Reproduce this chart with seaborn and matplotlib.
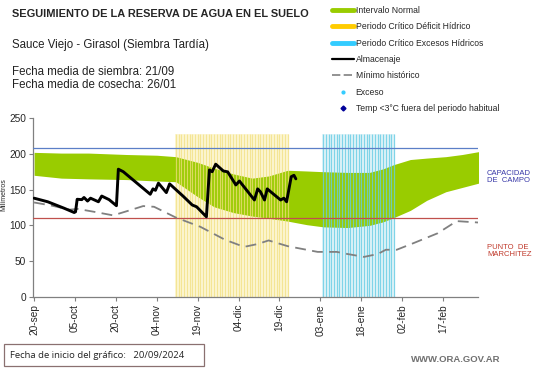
import matplotlib
matplotlib.use("Agg")
import matplotlib.pyplot as plt
from matplotlib.lines import Line2D
from matplotlib.patches import Rectangle
import pandas as pd
import seaborn as sns

sns.set_theme(style="white")
plt.rcParams["font.family"] = ["Liberation Sans", "DejaVu Sans"]

# days counted from 20-sep-2024
tick_days = [0, 15, 30, 45, 60, 75, 90, 105, 120, 135, 150]
tick_labels = ["20-sep", "05-oct", "20-oct", "04-nov", "19-nov", "04-dic",
               "19-dic", "03-ene", "18-ene", "02-feb", "17-feb"]

# Intervalo normal (upper / lower bounds)
band_days = [0, 10, 20, 34, 45, 52, 60, 66, 73, 80, 86, 93, 100, 106, 115,
             123, 128, 132, 138, 144, 151, 157, 163]
band_upper = [202, 201, 201, 199, 198, 196, 188, 180, 172, 166, 169, 177, 176,
              175, 174, 174, 179, 185, 192, 194, 196, 199, 203]
band_lower = [170, 166, 165, 164, 162, 161, 140, 126, 118, 113, 110, 106, 101,
              98, 97, 100, 105, 111, 121, 135, 147, 153, 159]

# Minimo historico
min_days = [0, 6, 13, 16, 22, 29, 35, 40, 44, 52, 61, 70, 77, 82, 86, 93, 104,
            111, 115, 121, 126, 129, 133, 139, 148, 155, 163]
min_vals = [132, 128, 122, 123, 119, 114, 121, 127, 126, 111, 98, 80, 70, 74,
            79, 71, 63, 63, 60, 56, 60, 66, 66, 75, 89, 106, 104]

# Almacenaje
alm_days = [0, 5, 11, 14.7, 15.2, 15.8, 17.5, 18.3, 19.6, 20.7, 23.6, 24.8,
            27.5, 30.2, 30.9, 32.7, 42.6, 43.6, 44.5, 45.6, 48.5, 49.7, 54.6,
            58, 59.6, 63.2, 64.3, 65.3, 66.6, 69.4, 71, 74, 75.3, 80.8, 82,
            83, 84.5, 85.5, 90.4, 91.6, 92.6, 94.3, 95.3, 96]
alm_vals = [138, 133, 124, 118, 119, 136.5, 136, 139, 134, 138, 133, 141, 136,
            127.5, 178.5, 175, 143.5, 151, 149, 159, 145.8, 158, 141, 128.5,
            126, 112, 177.5, 175, 185.5, 176, 174.8, 156.5, 162, 135.5, 151,
            147, 135.5, 151, 135.5, 138, 133, 168, 170, 165]

deficit_days = list(range(52, 94))
exceso_days = list(range(106, 133))
band_top = 228
cap_campo = 208
marchitez = 111

fig = plt.figure(figsize=(5.41, 3.68), dpi=100)
ax = fig.add_axes([33 / 541, 71 / 368, 445 / 541, 179 / 368])

# critical period backgrounds behind the normal band
ax.bar(deficit_days, band_top, width=1.0, color="#fdf7d6", lw=0, zorder=0.5)
ax.bar(exceso_days, band_top, width=1.0, color="#e4f5f9", lw=0, zorder=0.5)
ax.fill_between(band_days, band_lower, band_upper, color="#99cc00", lw=0, zorder=1)

# daily stripes on top
ax.vlines(deficit_days, 0, band_top, color="#f2df80", lw=0.9, alpha=0.75, zorder=2)
ax.vlines(exceso_days, 0, band_top, color="#66cce4", lw=0.9, alpha=0.8, zorder=2)

ax.axhline(cap_campo, color="#5b7fc7", lw=0.9, zorder=3)
ax.axhline(marchitez, color="#c0504d", lw=0.9, zorder=3)

df_min = pd.DataFrame({"dia": min_days, "mm": min_vals})
df_alm = pd.DataFrame({"dia": alm_days, "mm": alm_vals})
sns.lineplot(data=df_min, x="dia", y="mm", ax=ax, color="#808080", lw=1.3,
             zorder=4, sort=False)
ax.lines[-1].set_dashes([6, 3.5])
sns.lineplot(data=df_alm, x="dia", y="mm", ax=ax, color="black", lw=2.1,
             zorder=5, sort=False)

ax.set_xlim(-0.4, 162.8)
ax.set_ylim(0, 250)
ax.set_yticks([0, 50, 100, 150, 200, 250])
ax.set_xticks(tick_days)
ax.set_xticklabels(tick_labels, rotation=90)
ax.tick_params(axis="both", labelsize=7.3, length=3, width=0.8, color="#808080",
               pad=2, direction="out", left=True, bottom=True)
ax.set_xlabel("")
ax.set_ylabel("Milímetros", fontsize=5, labelpad=-1)
ax.yaxis.set_label_coords(-0.058, 0.57)
for side in ["top", "right"]:
    ax.spines[side].set_visible(False)
for side in ["left", "bottom"]:
    ax.spines[side].set_color("#808080")
    ax.spines[side].set_linewidth(0.9)

fig.text(487 / 541, 1 - 177 / 368, "CAPACIDAD\nDE  CAMPO", fontsize=5.5,
         color="#3838a8", va="center", ha="left", linespacing=1.1)
fig.text(487 / 541, 1 - 251 / 368, "PUNTO  DE\nMARCHITEZ", fontsize=5.5,
         color="#c0392b", va="center", ha="left", linespacing=1.1)

fig.text(12 / 541, 1 - 14 / 368, "SEGUIMIENTO DE LA RESERVA DE AGUA EN EL SUELO",
         fontsize=7.9, fontweight="bold", va="center")
fig.text(12 / 541, 1 - 45 / 368, "Sauce Viejo - Girasol (Siembra Tardía)",
         fontsize=8.3, va="center", color="#222222")
fig.text(12 / 541, 1 - 72 / 368, "Fecha media de siembra: 21/09",
         fontsize=8.3, va="center", color="#222222")
fig.text(12 / 541, 1 - 85 / 368, "Fecha media de cosecha: 26/01",
         fontsize=8.3, va="center", color="#222222")

handles = [
    Line2D([], [], color="#99cc00", lw=3.5),
    Line2D([], [], color="#ffcc00", lw=3.5),
    Line2D([], [], color="#33ccff", lw=3.5),
    Line2D([], [], color="black", lw=1.6),
    Line2D([], [], color="#808080", lw=1.2, dashes=[5, 2]),
    Line2D([], [], color="#33ccff", lw=0, marker="o", markersize=2),
    Line2D([], [], color="#000099", lw=0, marker="D", markersize=2.5),
]
labels = ["Intervalo Normal", "Periodo Crítico Déficit Hídrico",
          "Periodo Crítico Excesos Hídricos", "Almacenaje", "Mínimo histórico",
          "Exceso", "Temp <3°C fuera del periodo habitual"]
fig.legend(handles, labels, loc="upper left", bbox_to_anchor=(332 / 541, 1 - 6 / 368),
           frameon=False, fontsize=6.2, handlelength=2.5, handletextpad=0.25,
           labelspacing=0.85, borderaxespad=0, borderpad=0)

fig.text(10 / 541, 1 - 355 / 368, "Fecha de inicio del gráfico:   20/09/2024",
         fontsize=6.8, va="center", color="#222222", family=["Open Sans", "DejaVu Sans"])
fig.add_artist(Rectangle((4 / 541, 1 - 366 / 368), 200 / 541, 22 / 368,
                         transform=fig.transFigure, fill=False,
                         edgecolor="#8a7070", lw=0.9))
fig.text(500 / 541, 1 - 359 / 368, "WWW.ORA.GOV.AR", fontsize=6.8,
         va="center", ha="right", color="#707070", fontweight="bold")

fig.savefig("out.png", dpi=100)
